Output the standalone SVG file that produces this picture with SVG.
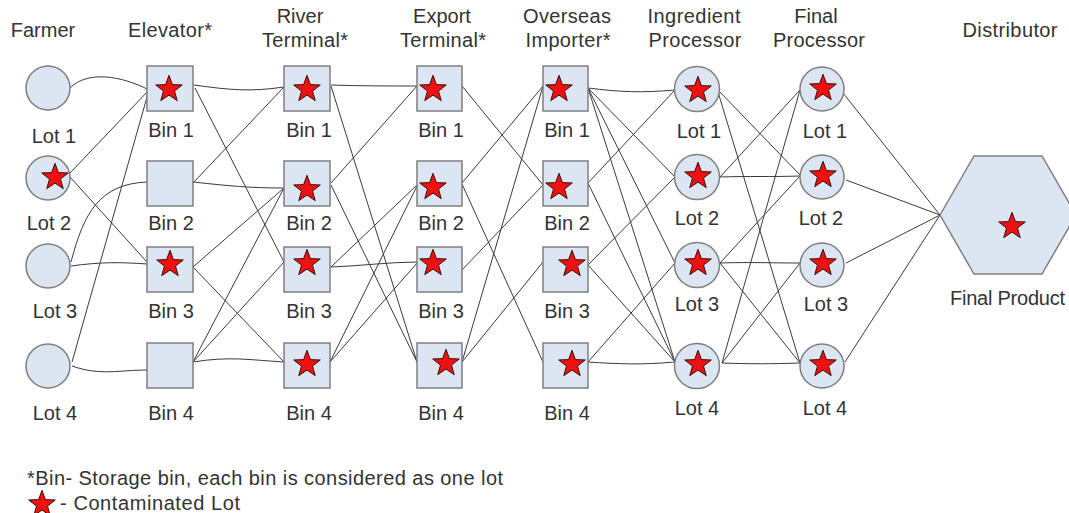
<svg xmlns="http://www.w3.org/2000/svg" xmlns:xlink="http://www.w3.org/1999/xlink" width="1069" height="513" viewBox="0 0 1069 513">
<defs>
<style>
text{font-family:"Liberation Sans",Arial,sans-serif;font-size:20px;fill:#333;}
.c{text-anchor:middle;}
.n{fill:#dce5f2;stroke:#7f7f7f;stroke-width:1.5;}
#edges path{fill:none;stroke:#3a3a3a;stroke-width:1;}
.st{fill:#ee1111;stroke:#3a1010;stroke-width:1;}
</style>
<path id="star" class="st" d="M0,-12.7 L3.41,-3.39 L13.31,-3.03 L5.52,3.09 L8.23,12.63 L0,7.1 L-8.23,12.63 L-5.52,3.09 L-13.31,-3.03 L-3.41,-3.39 Z"/>
</defs>
<rect width="1069" height="513" fill="#fff"/>

<g id="headers">
<text class="c" x="43" y="37">Farmer</text>
<text class="c" x="170" y="37" textLength="84">Elevator*</text>
<text class="c" x="300" y="23">River</text>
<text class="c" x="305" y="47" textLength="86">Terminal*</text>
<text class="c" x="442" y="23">Export</text>
<text class="c" x="443" y="47" textLength="86">Terminal*</text>
<text class="c" x="567" y="23" textLength="88">Overseas</text>
<text class="c" x="568" y="47" textLength="85">Importer*</text>
<text class="c" x="694" y="23" textLength="93">Ingredient</text>
<text class="c" x="695" y="47" textLength="93">Processor</text>
<text class="c" x="816" y="23">Final</text>
<text class="c" x="819" y="47" textLength="92">Processor</text>
<text class="c" x="1010" y="37" textLength="95">Distributor</text>
</g>

<g id="edges">
<path d="M70,88 C88,70 122,76 149,90"/>
<path d="M70,173 L149,90"/>
<path d="M70,177 L147,262"/>
<path d="M71,262 C84,212 100,184 147,182"/>
<path d="M71,266 C100,262 120,262 147,264"/>
<path d="M72,362 L149,90"/>
<path d="M72,366 C100,376 120,370 147,370"/>

<path d="M194,85 C230,90 250,92 284,87"/>
<path d="M195,88 L284,262"/>
<path d="M193,183 L284,87"/>
<path d="M193,182 C230,186 250,188 284,188"/>
<path d="M193,267 L284,188"/>
<path d="M193,267 L284,362"/>
<path d="M193,362 L284,188"/>
<path d="M193,362 L284,262"/>
<path d="M193,362 C230,356 250,360 284,362"/>

<path d="M331,85 C360,86 390,86 417,86"/>
<path d="M331,86 L417,362"/>
<path d="M331,183 L417,86"/>
<path d="M331,185 L417,362"/>
<path d="M331,267 L418,184"/>
<path d="M331,267 C360,266 390,262 418,262"/>
<path d="M330,362 L418,184"/>
<path d="M330,362 L418,262"/>

<path d="M462,86 L543,185"/>
<path d="M462,183 L543,86"/>
<path d="M462,184 L543,362"/>
<path d="M462,270 L543,185"/>
<path d="M462,362 L543,86"/>
<path d="M462,362 L543,262"/>

<path d="M588,88 C620,92 640,93 675,90"/>
<path d="M588,88 L675,177"/>
<path d="M588,88 L675,263"/>
<path d="M588,88 L675,362"/>
<path d="M588,183 L675,90"/>
<path d="M588,183 L675,362"/>
<path d="M588,265 L675,177"/>
<path d="M588,265 L675,362"/>
<path d="M588,362 L675,263"/>
<path d="M588,362 C620,364 640,365 675,362"/>

<path d="M718,90 L800,175"/>
<path d="M718,92 L800,363"/>
<path d="M720,177 L800,90"/>
<path d="M720,177 C750,176 770,177 800,176"/>
<path d="M720,263 L800,176"/>
<path d="M720,263 C750,262 770,263 800,263"/>
<path d="M720,263 L800,363"/>
<path d="M722,363 L800,90"/>
<path d="M722,363 L800,263"/>
<path d="M722,363 C750,364 770,364 800,363"/>

<path d="M843,93 L940,215"/>
<path d="M846,180 L940,215"/>
<path d="M846,263 L940,215"/>
<path d="M845,362 L940,215"/>
</g>

<g id="farmer-lot1"><circle class="n" cx="48" cy="88" r="22"/><text class="c" x="54" y="143">Lot 1</text></g>
<g id="farmer-lot2"><circle class="n" cx="48" cy="178" r="22"/><use xlink:href="#star" x="55" y="176"/><text class="c" x="49" y="230">Lot 2</text></g>
<g id="farmer-lot3"><circle class="n" cx="48" cy="266" r="22"/><text class="c" x="55" y="318">Lot 3</text></g>
<g id="farmer-lot4"><circle class="n" cx="48" cy="366" r="22"/><text class="c" x="55" y="420">Lot 4</text></g>

<g id="elev-bin1"><rect class="n" x="147" y="66" width="46" height="45"/><use xlink:href="#star" x="169" y="88"/><text class="c" x="171" y="137">Bin 1</text></g>
<g id="elev-bin2"><rect class="n" x="147" y="161" width="46" height="45"/><text class="c" x="171" y="230">Bin 2</text></g>
<g id="elev-bin3"><rect class="n" x="147" y="247" width="46" height="45"/><use xlink:href="#star" x="170" y="263"/><text class="c" x="171" y="318">Bin 3</text></g>
<g id="elev-bin4"><rect class="n" x="147" y="343" width="46" height="45"/><text class="c" x="171" y="420">Bin 4</text></g>

<g id="river-bin1"><rect class="n" x="284" y="66" width="46" height="45"/><use xlink:href="#star" x="307" y="88"/><text class="c" x="309" y="137">Bin 1</text></g>
<g id="river-bin2"><rect class="n" x="284" y="161" width="46" height="45"/><use xlink:href="#star" x="307" y="188"/><text class="c" x="309" y="230">Bin 2</text></g>
<g id="river-bin3"><rect class="n" x="284" y="247" width="46" height="45"/><use xlink:href="#star" x="307" y="262"/><text class="c" x="309" y="318">Bin 3</text></g>
<g id="river-bin4"><rect class="n" x="284" y="343" width="46" height="45"/><use xlink:href="#star" x="307" y="363"/><text class="c" x="309" y="420">Bin 4</text></g>

<g id="export-bin1"><rect class="n" x="417" y="66" width="45" height="45"/><use xlink:href="#star" x="433" y="88"/><text class="c" x="441" y="137">Bin 1</text></g>
<g id="export-bin2"><rect class="n" x="417" y="161" width="45" height="45"/><use xlink:href="#star" x="433" y="186"/><text class="c" x="441" y="230">Bin 2</text></g>
<g id="export-bin3"><rect class="n" x="417" y="247" width="45" height="45"/><use xlink:href="#star" x="433" y="262"/><text class="c" x="441" y="318">Bin 3</text></g>
<g id="export-bin4"><rect class="n" x="417" y="343" width="45" height="45"/><use xlink:href="#star" x="446" y="362"/><text class="c" x="441" y="420">Bin 4</text></g>

<g id="importer-bin1"><rect class="n" x="543" y="66" width="45" height="45"/><use xlink:href="#star" x="559" y="88"/><text class="c" x="567" y="137">Bin 1</text></g>
<g id="importer-bin2"><rect class="n" x="543" y="161" width="45" height="45"/><use xlink:href="#star" x="559" y="186"/><text class="c" x="567" y="230">Bin 2</text></g>
<g id="importer-bin3"><rect class="n" x="543" y="247" width="45" height="45"/><use xlink:href="#star" x="572" y="263"/><text class="c" x="567" y="318">Bin 3</text></g>
<g id="importer-bin4"><rect class="n" x="543" y="343" width="45" height="45"/><use xlink:href="#star" x="572" y="363"/><text class="c" x="567" y="420">Bin 4</text></g>

<g id="ingredient-lot1"><circle class="n" cx="697" cy="89" r="22.5"/><use xlink:href="#star" x="698" y="89"/><text class="c" x="699" y="138">Lot 1</text></g>
<g id="ingredient-lot2"><circle class="n" cx="697" cy="177" r="22.5"/><use xlink:href="#star" x="698" y="175"/><text class="c" x="697" y="225">Lot 2</text></g>
<g id="ingredient-lot3"><circle class="n" cx="697" cy="265" r="22.5"/><use xlink:href="#star" x="698" y="262"/><text class="c" x="697" y="311">Lot 3</text></g>
<g id="ingredient-lot4"><circle class="n" cx="697" cy="366" r="22.5"/><use xlink:href="#star" x="698" y="363"/><text class="c" x="697" y="415">Lot 4</text></g>

<g id="final-lot1"><circle class="n" cx="822" cy="89" r="22"/><use xlink:href="#star" x="823" y="87"/><text class="c" x="825" y="138">Lot 1</text></g>
<g id="final-lot2"><circle class="n" cx="822" cy="177" r="22"/><use xlink:href="#star" x="823" y="174"/><text class="c" x="821" y="225">Lot 2</text></g>
<g id="final-lot3"><circle class="n" cx="822" cy="265" r="22"/><use xlink:href="#star" x="823" y="262"/><text class="c" x="826" y="311">Lot 3</text></g>
<g id="final-lot4"><circle class="n" cx="822" cy="366" r="22"/><use xlink:href="#star" x="823" y="363"/><text class="c" x="825" y="415">Lot 4</text></g>

<g id="final-product"><polygon class="n" points="940,215 974,156 1042,156 1076,215 1042,274 974,274"/><use xlink:href="#star" x="1012" y="225"/><text x="950" y="305" textLength="115">Final Product</text></g>

<g id="legend">
<text x="27" y="485" textLength="476">*Bin- Storage bin, each bin is considered as one lot</text>
<use xlink:href="#star" x="42" y="503"/>
<text x="60" y="510" textLength="180">- Contaminated Lot</text>
</g>
</svg>
